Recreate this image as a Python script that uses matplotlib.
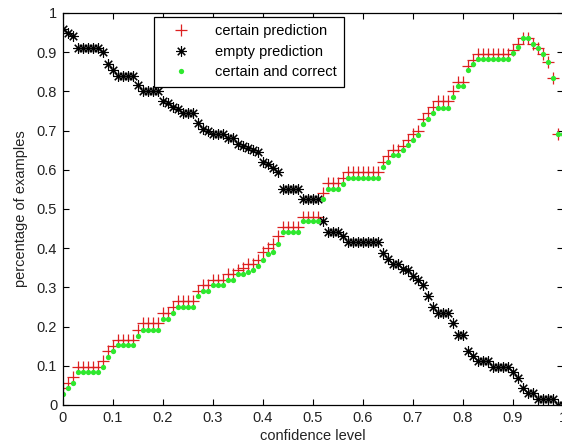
import matplotlib
matplotlib.use('Agg')
import matplotlib.pyplot as plt

plt.rcParams['font.family'] = ['Liberation Sans', 'DejaVu Sans']

conf_level = [
    0.00, 0.01, 0.02, 0.03, 0.04, 0.05, 0.06, 0.07, 0.08, 0.09,
    0.10, 0.11, 0.12, 0.13, 0.14, 0.15, 0.16, 0.17, 0.18, 0.19,
    0.20, 0.21, 0.22, 0.23, 0.24, 0.25, 0.26, 0.27, 0.28, 0.29,
    0.30, 0.31, 0.32, 0.33, 0.34, 0.35, 0.36, 0.37, 0.38, 0.39,
    0.40, 0.41, 0.42, 0.43, 0.44, 0.45, 0.46, 0.47, 0.48, 0.49,
    0.50, 0.51, 0.52, 0.53, 0.54, 0.55, 0.56, 0.57, 0.58, 0.59,
    0.60, 0.61, 0.62, 0.63, 0.64, 0.65, 0.66, 0.67, 0.68, 0.69,
    0.70, 0.71, 0.72, 0.73, 0.74, 0.75, 0.76, 0.77, 0.78, 0.79,
    0.80, 0.81, 0.82, 0.83, 0.84, 0.85, 0.86, 0.87, 0.88, 0.89,
    0.90, 0.91, 0.92, 0.93, 0.94, 0.95, 0.96, 0.97, 0.98, 0.99, 1.00,
]

# certain prediction (red +)
certain = [
    0.043, 0.056, 0.071, 0.097, 0.097, 0.097, 0.097, 0.097, 0.111, 0.137,
    0.151, 0.165, 0.165, 0.165, 0.165, 0.192, 0.208, 0.208, 0.208, 0.208,
    0.235, 0.235, 0.25, 0.265, 0.265, 0.265, 0.265, 0.29, 0.305, 0.305,
    0.32, 0.32, 0.32, 0.333, 0.333, 0.345, 0.35, 0.36, 0.36, 0.37,
    0.39, 0.40, 0.41, 0.43, 0.455, 0.455, 0.455, 0.455, 0.48, 0.48,
    0.48, 0.48, 0.54, 0.565, 0.565, 0.565, 0.58, 0.595, 0.595, 0.595,
    0.595, 0.595, 0.595, 0.595, 0.62, 0.635, 0.65, 0.65, 0.66, 0.675,
    0.69, 0.70, 0.73, 0.745, 0.76, 0.775, 0.775, 0.775, 0.80, 0.825,
    0.825, 0.865, 0.88, 0.895, 0.895, 0.895, 0.895, 0.895, 0.895, 0.895,
    0.905, 0.92, 0.935, 0.935, 0.92, 0.91, 0.895, 0.875, 0.835, 0.69, 0.69,
]

# empty prediction (black *)
empty = [
    0.96, 0.95, 0.94, 0.91, 0.91, 0.91, 0.91, 0.91, 0.90, 0.87,
    0.855, 0.84, 0.84, 0.84, 0.84, 0.815, 0.80, 0.80, 0.80, 0.80,
    0.775, 0.77, 0.76, 0.755, 0.745, 0.745, 0.745, 0.72, 0.705, 0.70,
    0.69, 0.69, 0.69, 0.68, 0.68, 0.665, 0.66, 0.655, 0.65, 0.645,
    0.62, 0.615, 0.605, 0.595, 0.55, 0.55, 0.55, 0.55, 0.525, 0.525,
    0.525, 0.525, 0.47, 0.44, 0.44, 0.44, 0.43, 0.415, 0.415, 0.415,
    0.415, 0.415, 0.415, 0.415, 0.388, 0.373, 0.359, 0.359, 0.348, 0.345,
    0.33, 0.318, 0.305, 0.277, 0.25, 0.235, 0.235, 0.235, 0.208, 0.178,
    0.178, 0.137, 0.124, 0.111, 0.111, 0.111, 0.097, 0.097, 0.097, 0.097,
    0.085, 0.068, 0.043, 0.03, 0.03, 0.015, 0.015, 0.015, 0.015, 0.0, 0.0,
]

# certain and correct (green .)
correct = [
    0.028, 0.043, 0.056, 0.083, 0.083, 0.083, 0.083, 0.083, 0.097, 0.122,
    0.137, 0.152, 0.152, 0.152, 0.152, 0.177, 0.192, 0.192, 0.192, 0.192,
    0.22, 0.22, 0.235, 0.25, 0.25, 0.25, 0.25, 0.278, 0.29, 0.29,
    0.305, 0.305, 0.305, 0.32, 0.32, 0.335, 0.335, 0.34, 0.345, 0.355,
    0.37, 0.385, 0.39, 0.41, 0.44, 0.44, 0.44, 0.44, 0.47, 0.47,
    0.47, 0.47, 0.526, 0.551, 0.551, 0.551, 0.564, 0.579, 0.579, 0.579,
    0.579, 0.579, 0.579, 0.579, 0.607, 0.62, 0.637, 0.637, 0.65, 0.662,
    0.675, 0.688, 0.718, 0.73, 0.744, 0.758, 0.758, 0.758, 0.786, 0.814,
    0.814, 0.855, 0.87, 0.882, 0.882, 0.882, 0.882, 0.882, 0.882, 0.882,
    0.897, 0.912, 0.935, 0.935, 0.92, 0.91, 0.895, 0.875, 0.835, 0.69, 0.69,
]

tick_vals = [0, 0.1, 0.2, 0.3, 0.4, 0.5, 0.6, 0.7, 0.8, 0.9, 1]
tick_labels = ['0', '0.1', '0.2', '0.3', '0.4', '0.5', '0.6', '0.7', '0.8', '0.9', '1']

fig = plt.figure(figsize=(5.62, 4.47), dpi=100)
ax = fig.add_axes([0.1116, 0.094, 0.8893, 0.877])

ax.plot(conf_level, certain, linestyle='none', marker='+', color='#dd2020',
        markersize=8, markeredgewidth=0.9, label='certain prediction')
ax.plot(conf_level, empty, linestyle='none', marker=(8, 2, 0), color='black',
        markersize=7.5, markeredgewidth=0.8, label='empty prediction')
ax.plot(conf_level, correct, linestyle='none', marker='o', color='#2ee82e',
        markersize=3.8, markeredgewidth=0, label='certain and correct')

ax.set_xlim(0, 1)
ax.set_ylim(0, 1)
ax.set_xticks(tick_vals)
ax.set_xticklabels(tick_labels)
ax.set_yticks(tick_vals)
ax.set_yticklabels(tick_labels)
ax.tick_params(direction='in', length=4.5, width=0.8, labelsize=10.5, pad=4,
               top=True, right=True, colors='black', labelcolor='#222222')
for s in ax.spines.values():
    s.set_linewidth(0.9)

ax.set_xlabel('confidence level', fontsize=10.5, labelpad=3, color='#222222')
ax.set_ylabel('percentage of examples', fontsize=10.5, labelpad=6, color='#222222')

leg = ax.legend(loc='upper left', bbox_to_anchor=(0.183, 0.99), fontsize=10.5,
                frameon=True, fancybox=False, edgecolor='black', framealpha=1,
                borderaxespad=0, labelspacing=0.45, handlelength=2.7,
                handletextpad=1.0, borderpad=0.5)
leg.get_frame().set_linewidth(0.9)

fig.savefig('out.png', dpi=100)
